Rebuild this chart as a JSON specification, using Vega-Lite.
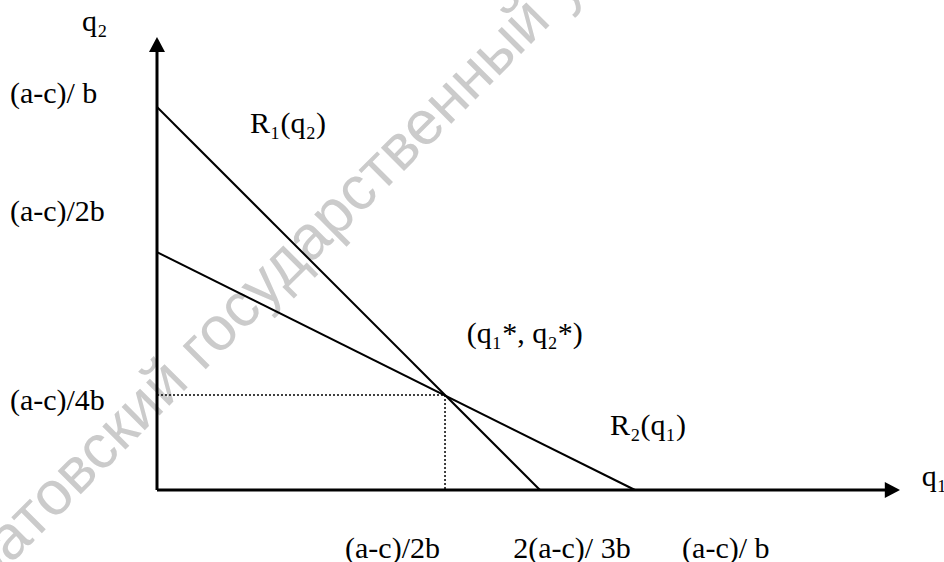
{
  "$schema": "https://vega.github.io/schema/vega-lite/v6.json",
  "width": 944,
  "height": 562,
  "padding": 0,
  "autosize": {"type": "none"},
  "background": "white",
  "config": {"view": {"stroke": null}},
  "datasets": {
    "watermark": [{"text": "Саратовский государственный университет имени Н. Г. Чернышевского", "q1": -0.594, "q2": -0.406}],
    "axes": [
      {"axis": "x", "q1": 0, "q2": 0}, {"axis": "x", "q1": 1.905, "q2": 0},
      {"axis": "y", "q1": 0, "q2": 0}, {"axis": "y", "q1": 0, "q2": 1.148}
    ],
    "arrows": [{"dir": "up", "q1": 0, "q2": 1.183}, {"dir": "right", "q1": 1.94, "q2": 0}],
    "curves": [
      {"series": "R1", "q1": 0, "q2": 1}, {"series": "R1", "q1": 1, "q2": 0},
      {"series": "R2", "q1": 0, "q2": 0.621}, {"series": "R2", "q1": 1.248, "q2": 0}
    ],
    "guides": [
      {"seg": "h", "q1": 0, "q2": 0.248}, {"seg": "h", "q1": 0.752, "q2": 0.248},
      {"seg": "v", "q1": 0.752, "q2": 0.248}, {"seg": "v", "q1": 0.752, "q2": 0}
    ],
    "labels": [
      {"text": "q₂", "q1": -0.196, "q2": 1.198},
      {"text": "(a-c)/ b", "q1": -0.384, "q2": 1.01},
      {"text": "(a-c)/2b", "q1": -0.384, "q2": 0.702},
      {"text": "(a-c)/4b", "q1": -0.384, "q2": 0.209},
      {"text": "R₁(q₂)", "q1": 0.243, "q2": 0.932},
      {"text": "(q₁*, q₂*)", "q1": 0.809, "q2": 0.384},
      {"text": "R₂(q₁)", "q1": 1.183, "q2": 0.144},
      {"text": "q₁", "q1": 1.997, "q2": 0.01},
      {"text": "(a-c)/2b", "q1": 0.491, "q2": -0.177},
      {"text": "2(a-c)/ 3b", "q1": 0.930, "q2": -0.177},
      {"text": "(a-c)/ b", "q1": 1.371, "q2": -0.177}
    ]
  },
  "encoding": {
    "x": {"field": "q1", "type": "quantitative", "axis": null, "scale": {"domain": [-0.40992, 2.05483], "nice": false, "zero": false}},
    "y": {"field": "q2", "type": "quantitative", "axis": null, "scale": {"domain": [-0.18799, 1.27937], "nice": false, "zero": false}}
  },
  "layer": [
    {
      "data": {"name": "watermark"},
      "mark": {"type": "text", "angle": -45, "align": "left", "baseline": "alphabetic", "font": "Liberation Sans", "fontSize": 62, "color": "#cbcbcb"},
      "encoding": {"text": {"field": "text"}}
    },
    {
      "data": {"name": "guides"},
      "mark": {"type": "line", "color": "black", "strokeWidth": 1.5, "strokeDash": [2, 2]},
      "encoding": {"detail": {"field": "seg"}}
    },
    {
      "data": {"name": "curves"},
      "mark": {"type": "line", "color": "black", "strokeWidth": 2},
      "encoding": {"detail": {"field": "series"}}
    },
    {
      "data": {"name": "axes"},
      "mark": {"type": "line", "color": "black", "strokeWidth": 3},
      "encoding": {"detail": {"field": "axis"}}
    },
    {
      "data": {"name": "arrows"},
      "mark": {"type": "point", "filled": true, "color": "black", "size": 256, "opacity": 1},
      "encoding": {
        "shape": {"field": "dir", "type": "nominal", "legend": null, "scale": {"domain": ["up", "right"], "range": ["M0,0L-1,1.9L1,1.9Z", "M0,0L-1.9,-1L-1.9,1Z"]}}
      }
    },
    {
      "data": {"name": "labels"},
      "mark": {"type": "text", "align": "left", "baseline": "alphabetic", "font": "Liberation Serif", "fontSize": 30, "color": "black"},
      "encoding": {"text": {"field": "text"}}
    }
  ]
}
